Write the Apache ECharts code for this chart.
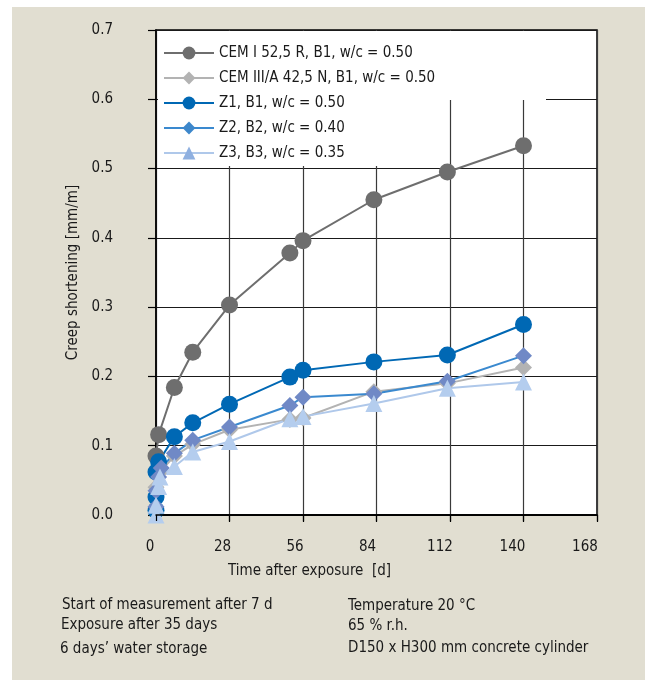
<!DOCTYPE html>
<html>
<head>
<meta charset="utf-8">
<script src="https://cdn.jsdelivr.net/npm/echarts@6/dist/echarts.min.js"></script>
<style>
  html, body { margin: 0; padding: 0; background: #ffffff; }
  #panel { position: absolute; left: 12px; top: 7px; width: 633px; height: 673px; background: #e1ded1; }
  #chart { position: absolute; left: 0; top: 0; width: 645px; height: 680px; }
</style>
</head>
<body>
<div id="panel"></div>
<div id="chart"></div>
<script>
// ---- data ----
const seriesNames = [
  'CEM I 52,5 R, B1, w/c = 0.50',
  'CEM III/A 42,5 N, B1, w/c = 0.50',
  'Z1, B1, w/c = 0.50',
  'Z2, B2, w/c = 0.40',
  'Z3, B3, w/c = 0.35'
];
const daysCem1  = [0, 1, 7, 14, 28, 51, 56, 83, 111, 140];
const valsCem1  = [0.085, 0.116, 0.184, 0.235, 0.303, 0.378, 0.396, 0.455, 0.495, 0.533];
const daysCem3  = [0, 0, 1, 7, 14, 28, 51, 56, 83, 111, 140];
const valsCem3  = [0.010, 0.040, 0.060, 0.085, 0.102, 0.123, 0.138, 0.140, 0.178, 0.190, 0.213];
const daysZ1    = [0, 0, 0, 1, 7, 14, 28, 51, 56, 83, 111, 140];
const valsZ1    = [0.007, 0.026, 0.062, 0.077, 0.113, 0.133, 0.160, 0.199, 0.209, 0.221, 0.231, 0.275];
const daysZ2    = [0, 0, 1, 2, 7, 14, 28, 51, 56, 83, 111, 140];
const valsZ2    = [0.012, 0.035, 0.055, 0.068, 0.089, 0.108, 0.127, 0.158, 0.170, 0.175, 0.193, 0.230];
const daysZ3    = [0, 0, 1, 1.5, 7, 14, 28, 51, 56, 83, 111, 140];
const valsZ3    = [0.000, 0.014, 0.041, 0.055, 0.070, 0.091, 0.106, 0.139, 0.142, 0.161, 0.183, 0.192];
const xTicks = [0, 28, 56, 84, 112, 140, 168];
const yTicks = [0.0, 0.1, 0.2, 0.3, 0.4, 0.5, 0.6, 0.7];
const xAxisTitle = 'Time after exposure  [d]';
const yAxisTitle = 'Creep shortening [mm/m]';
const notesLeft  = ['Start of measurement after 7 d', 'Exposure after 35 days', '6 days\u2019 water storage'];
const notesRight = ['Temperature 20 \u00b0C', '65 % r.h.', 'D150 x H300 mm concrete cylinder'];

// ---- styling ----
const FONT = "'Liberation Sans Narrow', 'DejaVu Sans Condensed', 'Roboto Condensed', sans-serif";
const FS = 15;
const TXT = '#1a1a1a';
function pairs(xs, ys) { return xs.map((x, i) => [x, ys[i]]); }

const chart = echarts.init(document.getElementById('chart'), null, { renderer: 'canvas' });

function lineSeries(name, xs, ys, symbol, lineColor, markColor, size) {
  return {
    name: name, type: 'line', xAxisIndex: 0, yAxisIndex: 0,
    data: pairs(xs, ys),
    symbol: symbol, symbolSize: size, clip: false,
    lineStyle: { color: lineColor, width: 2 },
    itemStyle: { color: markColor },
    emphasis: { disabled: true },
    animation: false
  };
}

const option = {
  backgroundColor: 'transparent',
  animation: false,
  textStyle: { fontFamily: FONT },
  grid: [
    { left: 156, top: 30, width: 441, height: 485, show: true, backgroundColor: '#ffffff', borderColor: '#000', borderWidth: 1.5 },
    { left: 150, top: 30, width: 435, height: 485, show: false }
  ],
  xAxis: [
    { type: 'value', gridIndex: 0, min: 0, max: 168, interval: 28,
      axisLine: { show: true, onZero: false, lineStyle: { color: '#000', width: 1.5 } },
      axisTick: { show: true, inside: false, length: 7, lineStyle: { color: '#000', width: 1.2 } },
      axisLabel: { show: false },
      splitLine: { show: true, lineStyle: { color: '#3a3a3a', width: 1.2 } } },
    { type: 'value', gridIndex: 0, position: 'top', min: 0, max: 168, interval: 28, z: 5,
      axisLine: { show: true, lineStyle: { color: '#000', width: 1.5 } },
      axisTick: { show: true, inside: true, length: 6, lineStyle: { color: '#000', width: 1.2 } },
      axisLabel: { show: false }, splitLine: { show: false } },
    { type: 'value', gridIndex: 1, min: 0, max: 168, interval: 28,
      axisLine: { show: false }, axisTick: { show: false }, splitLine: { show: false },
      axisLabel: { show: true, margin: 25, color: TXT, fontSize: FS, fontFamily: FONT,
        formatter: v => (xTicks.indexOf(v) >= 0 ? String(v) : '') } }
  ],
  yAxis: [
    { type: 'value', gridIndex: 0, min: 0, max: 0.7, interval: 0.1,
      name: yAxisTitle, nameLocation: 'middle', nameGap: 54,
      nameTextStyle: { color: TXT, fontSize: FS, fontFamily: FONT },
      axisLine: { show: true, lineStyle: { color: '#000', width: 1.5 } },
      axisTick: { show: true, inside: false, length: 8, lineStyle: { color: '#000', width: 1.2 } },
      axisLabel: { show: true, margin: 43, color: TXT, fontSize: FS, fontFamily: FONT, padding: [6, 0, 0, 0],
        formatter: v => { const t = yTicks.find(y => Math.abs(y - v) < 1e-9); return t === undefined ? '' : t.toFixed(1); } },
      splitLine: { show: true, lineStyle: { color: '#1a1a1a', width: 1.2 } } },
    { type: 'value', gridIndex: 1, min: 0, max: 0.7, show: false }
  ],
  legend: {
    orient: 'vertical', left: 158, top: 40, itemWidth: 50, itemHeight: 16, itemGap: 9,
    textStyle: { color: TXT, fontSize: FS, fontFamily: FONT, lineHeight: 16 },
    selectedMode: false,
    data: [
      { name: seriesNames[0] },
      { name: seriesNames[1] },
      { name: seriesNames[2] },
      { name: seriesNames[3], itemStyle: { color: '#3d87cb' } },
      { name: seriesNames[4], itemStyle: { color: '#8fb0e0' } }
    ]
  },
  graphic: [
    { type: 'rect', z: 1, silent: true, shape: { x: 158, y: 31, width: 388, height: 69 }, style: { fill: '#ffffff' } },
    { type: 'rect', z: 1, silent: true, shape: { x: 158, y: 99, width: 288, height: 67 }, style: { fill: '#ffffff' } },
    { type: 'text', z: 10, left: 228, top: 564, style: { text: xAxisTitle, fill: TXT, font: FS + 'px ' + FONT } },
    { type: 'text', z: 10, left: 62, top: 598, style: { text: notesLeft[0], fill: TXT, font: FS + 'px ' + FONT } },
    { type: 'text', z: 10, left: 61, top: 618, style: { text: notesLeft[1], fill: TXT, font: FS + 'px ' + FONT } },
    { type: 'text', z: 10, left: 60, top: 642, style: { text: notesLeft[2], fill: TXT, font: FS + 'px ' + FONT } },
    { type: 'text', z: 10, left: 348, top: 599, style: { text: notesRight[0], fill: TXT, font: FS + 'px ' + FONT } },
    { type: 'text', z: 10, left: 348, top: 619, style: { text: notesRight[1], fill: TXT, font: FS + 'px ' + FONT } },
    { type: 'text', z: 10, left: 348, top: 641, style: { text: notesRight[2], fill: TXT, font: FS + 'px ' + FONT } }
  ],
  series: [
    lineSeries(seriesNames[0], daysCem1, valsCem1, 'circle', '#6e6e6e', '#6e6e6e', 17),
    lineSeries(seriesNames[1], daysCem3, valsCem3, 'diamond', '#b3b3b3', '#b3b3b3', 17),
    lineSeries(seriesNames[2], daysZ1, valsZ1, 'circle', '#0068b4', '#0068b4', 17),
    lineSeries(seriesNames[3], daysZ2, valsZ2, 'diamond', '#3a89cf', '#7089c6', 17),
    lineSeries(seriesNames[4], daysZ3, valsZ3, 'triangle', '#afc8ea', '#b4cdee', 17)
  ]
};
chart.setOption(option);
</script>
</body>
</html>
